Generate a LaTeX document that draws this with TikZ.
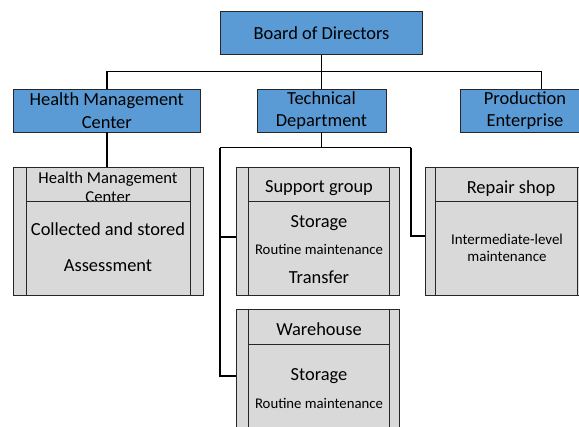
\documentclass[tikz,border=0pt]{standalone}
\usepackage{fontspec}
\setmainfont{Carlito}
\usetikzlibrary{calc}
\definecolor{boardblue}{HTML}{5B9BD5}
\definecolor{unitgray}{HTML}{D9D9D9}
\definecolor{edgegray}{HTML}{262626}
\tikzset{
  unit/.style={draw=edgegray, line width=0.9pt, fill=boardblue, align=center,
    inner sep=0pt, font=\fontsize{18.5}{22.7}\selectfont},
  procbox/.style={draw=edgegray, line width=0.9pt, fill=unitgray, inner sep=0pt},
  procline/.style={edgegray, line width=0.9pt},
  link/.style={black, line width=1.5pt},
  bigtext/.style={font=\fontsize{18.5}{22.7}\selectfont},
  smalltext/.style={font=\fontsize{14.8}{17}\selectfont, align=center},
}

\begin{document}
\begin{tikzpicture}[x=1bp,y=-1bp]
  \clip (0,0) rectangle (579,426);
  \fill[white] (0,0) rectangle (579,426);

  % top levels
  \node[unit, minimum width=201.6bp, minimum height=42.6bp] (board) at (321.5,33) {Board of Directors};
  \node[unit, minimum width=186.5bp, minimum height=43bp] (hmc) at (106.8,110.5) {Health Management\\Center};
  \node[unit, minimum width=129bp, minimum height=43bp] (tech) at (321.5,110.5) {Technical\\Department};
  \node[unit, minimum width=130bp, minimum height=43bp] (prod) at (525,110.5) {Production\\Enterprise};

  % grey units
  \node[procbox, minimum width=189.7bp, minimum height=127.7bp] (hmcbox) at (108.2,231.2) {};
  \node[procbox, minimum width=162.6bp, minimum height=127.7bp] (supbox) at (318,231.2) {};
  \node[procbox, minimum width=163bp, minimum height=127.7bp] (repbox) at (506.5,231.2) {};
  \node[procbox, minimum width=162.6bp, minimum height=134bp] (warbox) at (318,376) {};

  \node[font=\fontsize{16.7}{19.3}\selectfont, align=center] (hmchead) at (108,187.3) {Health Management\\Center};
  \node[bigtext] (collect) at (108,229) {Collected and stored};
  \node[bigtext] (assess) at (108,266) {Assessment};

  \node[bigtext] (suphead) at (319,187.7) {Support group};
  \node[bigtext] (supstore) at (319,222.7) {Storage};
  \node[smalltext] (suproutine) at (319,249) {Routine maintenance};
  \node[bigtext] (suptrans) at (319,277.7) {Transfer};

  \node[bigtext] (rephead) at (511,189) {Repair shop};
  \node[smalltext, font=\fontsize{15}{17}\selectfont] (repmid) at (507,247.5) {Intermediate-level\\maintenance};

  \node[bigtext] (warhead) at (319,329.3) {Warehouse};
  \node[bigtext] (warstore) at (319,376) {Storage};
  \node[smalltext] (warroutine) at (319,403.7) {Routine maintenance};

  % side bars and header rules
  \foreach \b/\l/\r/\s in {hmcbox/13.4/13/35, supbox/12.6/10.3/35, repbox/11/11/35, warbox/12.6/10.3/36} {
    \draw[procline] ($(\b.north west)+(\l,0)$) -- ($(\b.south west)+(\l,0)$)
                    ($(\b.north east)+(-\r,0)$) -- ($(\b.south east)+(-\r,0)$);
    \draw[procline] ($(\b.north west)+(\l,\s)$) -- ($(\b.north east)+(-\r,\s)$);
  }

  % connectors
  \coordinate (bus) at (321.5,71.7);
  \coordinate (prodtop) at (541.7,89);
  \coordinate (tl) at (220,147.7);
  \coordinate (tr) at (411,147.7);
  \draw[link] (board.south) -- (tech.north);
  \draw[link] (hmc.north) |- (bus) -| (prodtop);
  \draw[link] (hmc.south) -- (hmc.south |- hmcbox.north);
  \draw[link] (tech.south) -- (tech.south |- tl);
  \draw[link] (tl) -- (tr);
  \draw[link] (tl) |- ([yshift=-5.7bp]supbox.west);
  \draw[link] (tl) |- (warbox.west);
  \draw[link] (tr) |- ([yshift=-5bp]repbox.west);
\end{tikzpicture}
\end{document}
